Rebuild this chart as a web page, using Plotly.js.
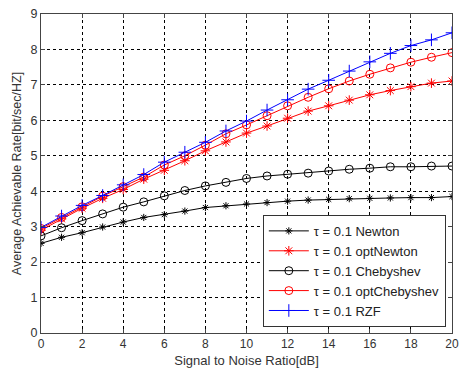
<!DOCTYPE html>
<html>
<head>
<meta charset="utf-8">
<script src="https://cdn.plot.ly/plotly-3.0.1.min.js"></script>
<style>html,body{margin:0;padding:0;background:#fff;}#chart{width:459px;height:368px;}</style>
</head>
<body>
<div id="chart"></div>
<script>
const snr = [0,1,2,3,4,5,6,7,8,9,10,11,12,13,14,15,16,17,18,19,20];
const newton = [2.53,2.70,2.83,2.99,3.13,3.26,3.34,3.44,3.54,3.59,3.64,3.68,3.72,3.75,3.77,3.79,3.80,3.81,3.82,3.82,3.85];
const optNewton = [2.90,3.22,3.52,3.80,4.05,4.34,4.59,4.86,5.14,5.39,5.64,5.84,6.06,6.26,6.41,6.57,6.72,6.84,6.95,7.05,7.11];
const chebyshev = [2.74,2.97,3.17,3.36,3.55,3.70,3.87,4.02,4.15,4.25,4.36,4.43,4.48,4.51,4.57,4.62,4.65,4.69,4.69,4.71,4.71];
const optChebyshev = [2.95,3.26,3.56,3.86,4.13,4.40,4.74,5.00,5.30,5.62,5.87,6.13,6.41,6.65,6.89,7.11,7.30,7.48,7.64,7.78,7.91];
const rzf = [2.98,3.30,3.60,3.88,4.18,4.47,4.82,5.10,5.38,5.70,5.98,6.29,6.58,6.88,7.13,7.39,7.65,7.89,8.11,8.27,8.47];
const names = ["τ = 0.1 Newton","τ = 0.1 optNewton","τ = 0.1 Chebyshev","τ = 0.1 optChebyshev","τ = 0.1 RZF"];

const traces = [
  {x:snr,y:newton,name:names[0],mode:'lines+markers',line:{color:'#000',width:1},marker:{symbol:'asterisk-open',size:6,color:'#000',line:{color:'#000',width:1}}},
  {x:snr,y:optNewton,name:names[1],mode:'lines+markers',line:{color:'#ff0000',width:1},marker:{symbol:'asterisk-open',size:8,color:'#ff0000',line:{color:'#ff0000',width:1}}},
  {x:snr,y:chebyshev,name:names[2],mode:'lines+markers',line:{color:'#000',width:1},marker:{symbol:'circle-open',size:8,color:'#000',line:{color:'#000',width:1}}},
  {x:snr,y:optChebyshev,name:names[3],mode:'lines+markers',line:{color:'#ff0000',width:1},marker:{symbol:'circle-open',size:8,color:'#ff0000',line:{color:'#ff0000',width:1}}},
  {x:snr,y:rzf,name:names[4],mode:'lines+markers',line:{color:'#0000ff',width:1},marker:{symbol:'cross-thin-open',size:9,color:'#0000ff',line:{color:'#0000ff',width:1}}}
];

const font = {family:'Liberation Sans, Arial, sans-serif',size:12,color:'#333'};
const layout = {
  width:459,height:368,
  margin:{l:41,r:7,t:14,b:35},
  paper_bgcolor:'#fff',plot_bgcolor:'#fff',
  font:font,
  showlegend:true,
  legend:{x:0.985,y:0.019,xanchor:'right',yanchor:'bottom',bgcolor:'#fff',bordercolor:'#333',borderwidth:1,
    font:{family:'Liberation Sans, Arial, sans-serif',size:13,color:'#222'},tracegroupgap:0,itemwidth:40},
  xaxis:{range:[0,20],dtick:2,tick0:0,showline:true,mirror:'ticks',linecolor:'#444',linewidth:1,ticklabeloverflow:'allow',
    ticks:'inside',ticklen:4,tickcolor:'#444',showgrid:true,gridcolor:'#000',griddash:'3px,3px',gridwidth:1,zeroline:false,
    title:{text:'Signal to Noise Ratio[dB]',font:{size:13,color:'#333'},standoff:5},tickfont:{size:12,color:'#333'}},
  yaxis:{range:[0,9],dtick:1,tick0:0,showline:true,mirror:'ticks',linecolor:'#444',linewidth:1,
    ticks:'inside',ticklen:4,tickcolor:'#444',showgrid:true,gridcolor:'#000',griddash:'3px,3px',gridwidth:1,zeroline:false,
    title:{text:'Average Achievable Rate[bit/sec/HZ]',font:{size:12.5,color:'#333'},standoff:6},tickfont:{size:12.5,color:'#333'}}
};
Plotly.newPlot('chart',traces,layout,{displayModeBar:false,staticPlot:true});
</script>
</body>
</html>
